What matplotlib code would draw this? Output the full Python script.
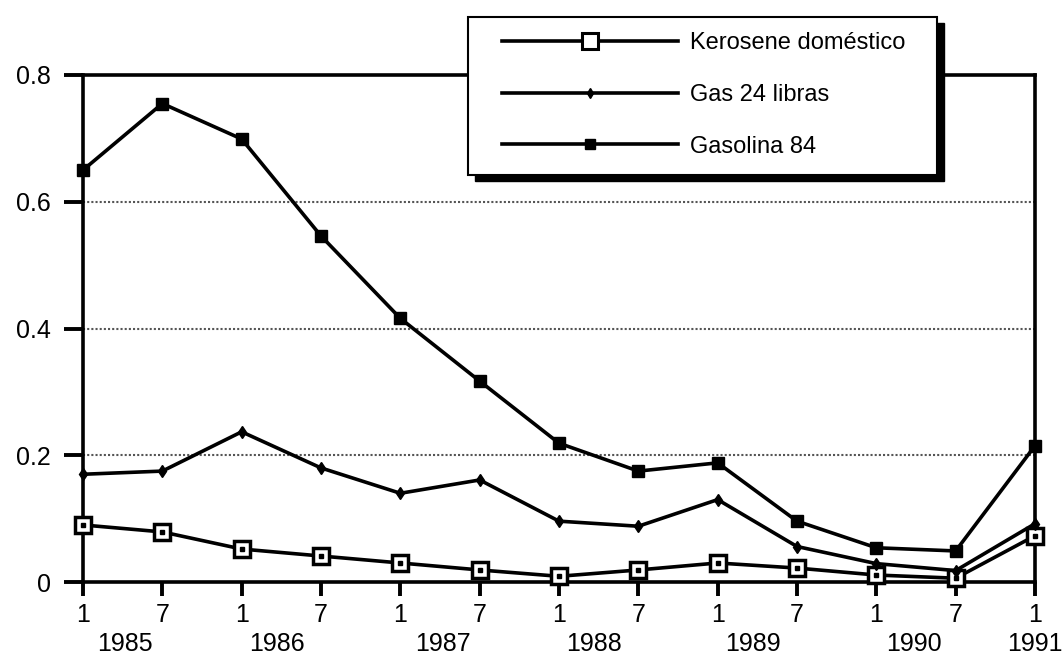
import matplotlib
matplotlib.use("Agg")
import matplotlib.pyplot as plt
from matplotlib.patches import Rectangle
from matplotlib.lines import Line2D
from matplotlib.transforms import blended_transform_factory

plt.rcParams['font.family'] = ['Liberation Sans', 'DejaVu Sans']

months = ["1", "7", "1", "7", "1", "7", "1", "7", "1", "7", "1", "7", "1"]
years = ["1985", "1986", "1987", "1988", "1989", "1990", "1991"]
year_pos = [0.53, 2.45, 4.54, 6.44, 8.44, 10.47, 12.0]

kerosene = [0.090, 0.079, 0.052, 0.041, 0.030, 0.019, 0.009, 0.019, 0.030, 0.022, 0.011, 0.006, 0.073]
gas24 = [0.170, 0.175, 0.237, 0.180, 0.140, 0.161, 0.096, 0.088, 0.130, 0.056, 0.029, 0.018, 0.092]
gasolina = [0.650, 0.755, 0.699, 0.546, 0.416, 0.317, 0.219, 0.175, 0.188, 0.096, 0.054, 0.049, 0.215]

labels = ["Kerosene doméstico", "Gas 24 libras", "Gasolina 84"]

W, H = 1064, 660
fig = plt.figure(figsize=(W/100, H/100), dpi=100)
ax = fig.add_axes([83/W, 1-582/H, 952/W, 507/H])

x = list(range(len(months)))
lw = 2.6
ax.plot(x, kerosene, color='k', lw=lw, marker='s', ms=11, mfc='white', mec='k', mew=2.5, zorder=3, clip_on=False)
ax.plot(x, kerosene, ls='none', marker='s', ms=2.5, color='k', zorder=4, clip_on=False)
ax.plot(x, gas24, color='k', lw=lw, marker='d', ms=6, mfc='k', mec='k', zorder=3, clip_on=False)
ax.plot(x, gasolina, color='k', lw=lw, marker='s', ms=8, mfc='k', mec='k', zorder=3, clip_on=False)

for gy in [0.2, 0.4, 0.6]:
    ax.axhline(gy, color='#555555', lw=1.5, ls=(0, (1, 1)), zorder=1)

ax.set_xlim(0, 12)
ax.set_ylim(0, 0.8)
ax.set_yticks([0, 0.2, 0.4, 0.6, 0.8])
ax.set_yticklabels(["0", "0.2", "0.4", "0.6", "0.8"])
ax.set_xticks(x)
ax.set_xticklabels(months)
ax.tick_params(axis='both', direction='out', width=2.8, labelsize=18, colors='k')
ax.tick_params(axis='y', length=14, pad=9)
ax.tick_params(axis='x', length=10, pad=5)
for s in ax.spines.values():
    s.set_linewidth(2.6)

trans = blended_transform_factory(ax.transData, ax.transAxes)
for yp, yl in zip(year_pos, years):
    ax.text(yp, -0.098, yl, transform=trans, ha='center', va='top', fontsize=18)

# legend frame and shadow
lx0, lx1 = 468/W, 937/W
ly0, ly1 = 1-175/H, 1-17/H
fig.patches.append(Rectangle((lx0 + 7/W, ly0 - 6/H), lx1 - lx0, ly1 - ly0,
                             transform=fig.transFigure, facecolor='k', edgecolor='k', zorder=4))
fig.patches.append(Rectangle((lx0, ly0), lx1 - lx0, ly1 - ly0,
                             transform=fig.transFigure, facecolor='white', edgecolor='k',
                             lw=1.5, zorder=4.5))

handles = [
    Line2D([], [], color='k', lw=lw, marker='s', ms=11, mfc='white', mec='k', mew=2.2),
    Line2D([], [], color='k', lw=lw, marker='d', ms=5, mfc='k', mec='k'),
    Line2D([], [], color='k', lw=lw, marker='s', ms=7, mfc='k', mec='k'),
]
leg = fig.legend(handles, labels, loc='center left', bbox_to_anchor=(502/W, 1-95/H),
                 fontsize=17, handlelength=7.45, handletextpad=0.5,
                 labelspacing=1.25, borderpad=0, borderaxespad=0, frameon=False)
leg.set_zorder(5)

fig.savefig("out.png", dpi=100)
